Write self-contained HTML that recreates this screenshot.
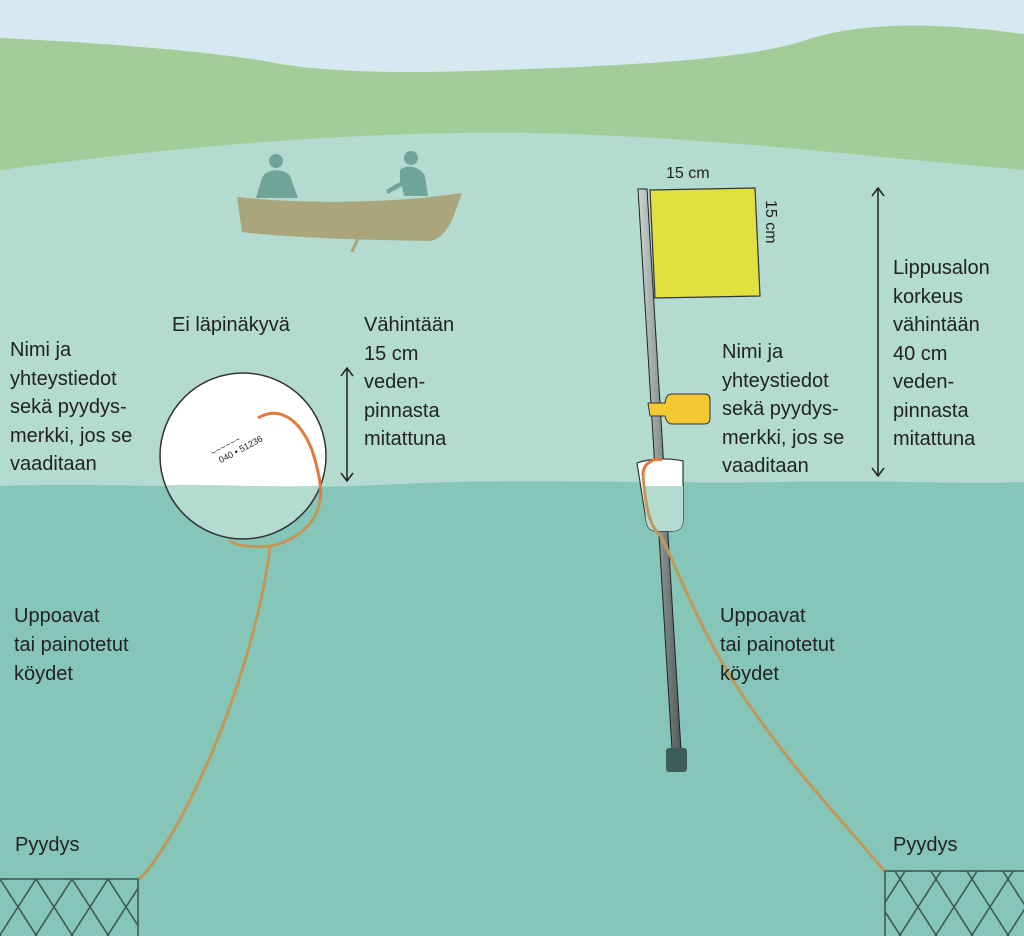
<!DOCTYPE html>
<html><head><meta charset="utf-8"><style>
html,body{margin:0;padding:0;background:#d6e9f0;}
svg{display:block}
text{font-family:"Liberation Sans",sans-serif;font-size:20px;fill:#222;}
</style></head><body>
<svg width="1024" height="936" viewBox="0 0 1024 936" xmlns="http://www.w3.org/2000/svg">
<defs>
<pattern id="net" x="0" y="879" width="36" height="56" patternUnits="userSpaceOnUse">
<path d="M0,0 L36,56 M36,0 L0,56 M-36,0 L36,112 M72,0 L0,112" stroke="#3f5a55" stroke-width="1.6" fill="none"/>
</pattern>
<linearGradient id="pole" x1="0" x2="1"><stop offset="0" stop-color="#cfd6d4"/><stop offset="0.5" stop-color="#8c9794"/><stop offset="1" stop-color="#4f5a57"/></linearGradient>
<clipPath id="bc"><circle cx="243" cy="456" r="83"/></clipPath>
</defs>
<rect width="1024" height="936" fill="#d6e9f0"/>
<path d="M0,38 C120,44 220,52 280,64 C330,72 400,74 500,70 C620,66 740,60 800,42 C850,24 920,20 1024,34 L1024,200 L0,200 Z" fill="#a2cc98"/>
<path d="M0,170 C150,150 350,130 530,133 C700,136 850,155 1024,170 L1024,500 L0,500 Z" fill="#b4dbd0"/>
<path d="M0,486 C120,482 250,492 400,484 C520,478 650,484 780,482 C880,480 960,484 1024,482 L1024,936 L0,936 Z" fill="#86c6b9"/>

<!-- boat people -->
<g fill="#6fa597">
<circle cx="276" cy="161" r="7"/><path d="M262,178 C266,168 285,168 290,176 L298,198 L256,198 Z"/>
<circle cx="411" cy="158" r="7"/><path d="M400,170 C406,164 420,166 425,176 L428,196 L404,196 L402,186 L388,194 L386,190 L400,182 Z"/>
</g>
<path d="M237,197 C300,204 390,204 462,193 L455,212 C450,228 440,240 430,241 C370,240 290,238 242,232 Z" fill="#aaa57b"/>
<path d="M358,238 L352,252" stroke="#aaa57b" stroke-width="3"/>

<!-- buoy -->
<circle cx="243" cy="456" r="83" fill="#fff"/>
<g clip-path="url(#bc)"><path d="M150,486 C200,482 290,490 340,484 L340,560 L150,560 Z" fill="#b4dbd0"/></g>
<circle cx="243" cy="456" r="83" fill="none" stroke="#333" stroke-width="1.5"/>
<text x="206" y="450" transform="rotate(-28 222 440)" style="font-size:9px;font-family:'Liberation Mono',monospace">~~~~~~</text>
<text x="210" y="460" transform="rotate(-28 222 440)" style="font-size:9px">040 • 51236</text>
<path d="M258,418 C280,405 300,420 312,450 C320,475 322,490 320,500" fill="none" stroke="#e07a3a" stroke-width="3"/>
<path d="M320,500 C318,520 300,540 270,546 C250,548 232,545 230,540 M270,546 C264,600 240,700 190,800 C170,840 150,870 138,880" fill="none" stroke="#c2985a" stroke-width="3"/>

<!-- arrows -->
<g stroke="#222" stroke-width="1.5" fill="none">
<path d="M347,368 L347,481 M341,376 L347,368 L353,376 M341,473 L347,481 L353,473"/>
<path d="M878,188 L878,476 M872,196 L878,188 L884,196 M872,468 L878,476 L884,468"/>
</g>

<!-- pole -->
<path d="M638,189 L647,189 L681,750 L672,750 Z" fill="url(#pole)" stroke="#222" stroke-width="1"/>
<rect x="666" y="748" width="21" height="24" rx="3" fill="#3e5d57"/>
<path d="M650,190 L755,188 L760,296 L655,298 Z" fill="#e2e03e" stroke="#333" stroke-width="1.2"/>
<path d="M648,403 L665,403 C666,396 668,394 672,394 L705,394 C709,394 710,397 710,400 L710,418 C710,422 708,424 704,424 L672,424 C668,424 666,420 665,416 L650,416 Z" fill="#f4c832" stroke="#333" stroke-width="1"/>
<path d="M637,463 C650,458 670,458 683,461 L683,520 C683,527 680,531 672,531 L656,531 C650,531 647,527 646,520 Z" fill="#fff" stroke="#333" stroke-width="1.2"/>
<path d="M643,486 L683,486 L683,520 C683,527 680,531 672,531 L656,531 C650,531 647,527 646,520 Z" fill="#b4dbd0"/>
<path d="M643,475 C643,462 655,458 662,460" fill="none" stroke="#e07a3a" stroke-width="3"/>
<path d="M643,475 C645,500 648,525 660,535 C675,560 700,640 760,720 C810,790 860,840 885,872" fill="none" stroke="#c2985a" stroke-width="3"/>

<!-- nets -->
<rect x="-1" y="879" width="139" height="60" fill="url(#net)" stroke="#3f5a55" stroke-width="1.6"/>
<rect x="885" y="871" width="142" height="70" fill="url(#net)" stroke="#3f5a55" stroke-width="1.6"/>

<!-- texts -->
<text x="10" y="356">Nimi ja</text><text x="10" y="385">yhteystiedot</text><text x="10" y="413">sekä pyydys-</text><text x="10" y="442">merkki, jos se</text><text x="10" y="470">vaaditaan</text>
<text x="172" y="331">Ei läpinäkyvä</text>
<text x="364" y="331">Vähintään</text><text x="364" y="360">15 cm</text><text x="364" y="388">veden-</text><text x="364" y="417">pinnasta</text><text x="364" y="445">mitattuna</text>
<text x="14" y="622">Uppoavat</text><text x="14" y="651">tai painotetut</text><text x="14" y="680">köydet</text>
<text x="15" y="851">Pyydys</text>
<text x="666" y="178" style="font-size:16px">15 cm</text>
<text x="766" y="200" transform="rotate(90 766 200)" style="font-size:16px">15 cm</text>
<text x="722" y="358">Nimi ja</text><text x="722" y="387">yhteystiedot</text><text x="722" y="415">sekä pyydys-</text><text x="722" y="444">merkki, jos se</text><text x="722" y="472">vaaditaan</text>
<text x="893" y="274">Lippusalon</text><text x="893" y="303">korkeus</text><text x="893" y="331">vähintään</text><text x="893" y="360">40 cm</text><text x="893" y="388">veden-</text><text x="893" y="417">pinnasta</text><text x="893" y="445">mitattuna</text>
<text x="720" y="622">Uppoavat</text><text x="720" y="651">tai painotetut</text><text x="720" y="680">köydet</text>
<text x="893" y="851">Pyydys</text>
</svg>
</body></html>
